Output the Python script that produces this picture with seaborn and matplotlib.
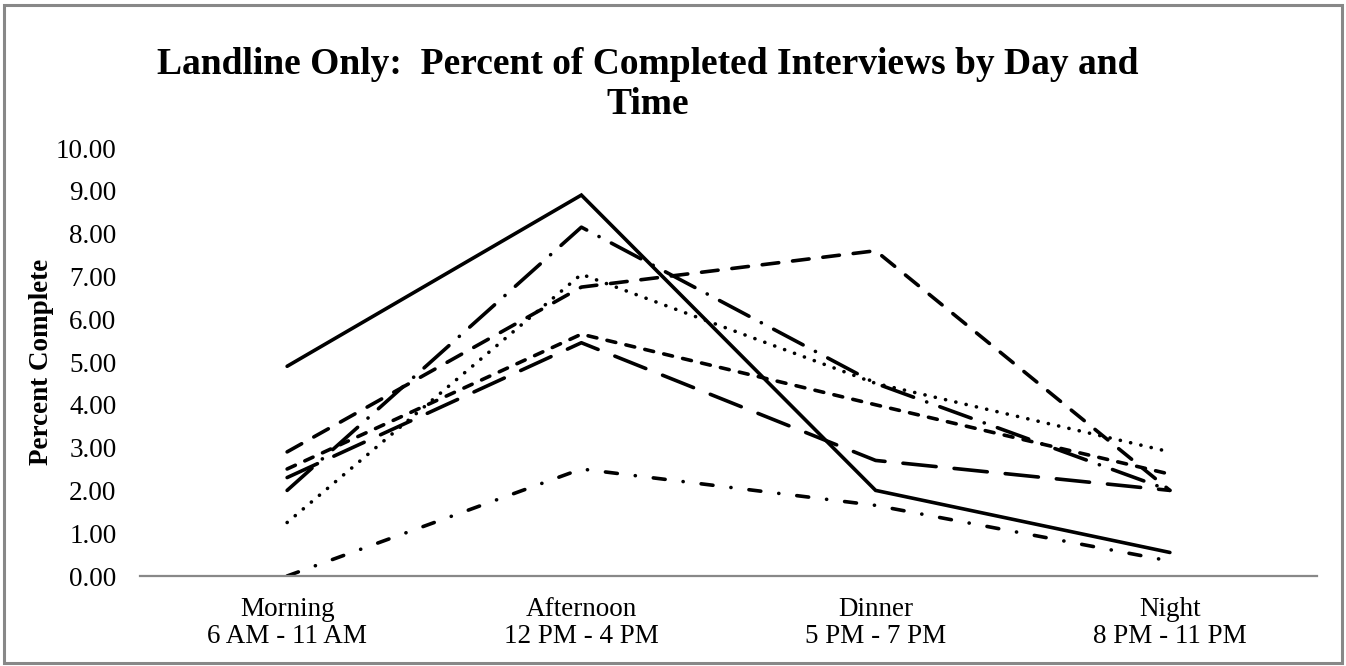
import matplotlib
matplotlib.use("Agg")
import matplotlib.pyplot as plt
import pandas as pd
import seaborn as sns
from matplotlib.patches import Rectangle

# Data
time_slots = [
    "Morning\n6 AM - 11 AM",
    "Afternoon\n12 PM - 4 PM",
    "Dinner\n5 PM - 7 PM",
    "Night\n8 PM - 11 PM",
]
series_names = ["Day 1", "Day 2", "Day 3", "Day 4", "Day 5", "Day 6", "Day 7"]
day_1 = [4.90, 8.90, 2.00, 0.55]
day_2 = [2.00, 8.15, 4.50, 2.00]
day_3 = [1.25, 7.05, 4.50, 2.90]
day_4 = [2.90, 6.75, 7.60, 2.00]
day_5 = [2.50, 5.65, 4.00, 2.38]
day_6 = [2.30, 5.45, 2.70, 2.00]
day_7 = [0.00, 2.50, 1.65, 0.35]
series_values = [day_1, day_2, day_3, day_4, day_5, day_6, day_7]

sns.set_theme(style="white")
plt.rcParams["font.family"] = ["Liberation Serif", "DejaVu Serif"]
plt.rcParams["lines.scale_dashes"] = False
plt.rcParams["text.color"] = "black"
plt.rcParams["xtick.color"] = "black"
plt.rcParams["ytick.color"] = "black"
plt.rcParams["axes.labelcolor"] = "black"

rows = []
for name, values in zip(series_names, series_values):
    for slot, value in zip(time_slots, values):
        rows.append({"slot": slot, "day": name, "pct": value})
df = pd.DataFrame(rows)

# dash patterns in points
dash_map = {
    "Day 1": (),
    "Day 2": (24, 10, 0.1, 10),
    "Day 3": (0.1, 7.5),
    "Day 4": (12, 10),
    "Day 5": (6.5, 7.5),
    "Day 6": (24, 13),
    "Day 7": (8.6, 13, 0.1, 13),
}

fig = plt.figure(figsize=(13.46, 6.66), dpi=100)
ax = fig.add_axes([140 / 1346, 1 - 576 / 666, 1177 / 1346, (576 - 148) / 666])

sns.lineplot(
    data=df,
    x="slot",
    y="pct",
    hue="day",
    style="day",
    palette=["black"] * len(series_names),
    dashes=dash_map,
    linewidth=2.6,
    sort=False,
    legend=False,
    dash_capstyle="round",
    solid_capstyle="round",
    solid_joinstyle="miter",
    ax=ax,
)

ax.set_xlim(-0.5, 3.5)
ax.set_ylim(0, 10)
ax.set_yticks(range(0, 11))
ax.set_yticklabels([f"{v:.2f}" for v in range(0, 11)])
ax.tick_params(axis="y", length=0, pad=17, labelsize=19.5)
ax.tick_params(axis="x", length=0, pad=15, labelsize=19.5)
for lab in ax.get_xticklabels():
    lab.set_linespacing(1.13)
ax.set_xlabel("")
ax.set_ylabel("Percent Complete", fontsize=19.5, fontweight="bold")
ax.yaxis.set_label_coords(-0.073, 0.5)

for side in ["top", "right", "left"]:
    ax.spines[side].set_visible(False)
ax.spines["bottom"].set_color("#888888")
ax.spines["bottom"].set_linewidth(1.6)

fig.text(
    648 / 1346,
    1 - 47 / 666,
    "Landline Only:  Percent of Completed Interviews by Day and\nTime",
    ha="center",
    va="top",
    fontsize=27,
    fontweight="bold",
    linespacing=1.19,
)

fig.patches.append(
    Rectangle(
        (0.003, 0.005), 0.994, 0.988,
        transform=fig.transFigure, fill=False,
        edgecolor="#888888", linewidth=2.2,
    )
)

fig.savefig("out.png", dpi=100)
